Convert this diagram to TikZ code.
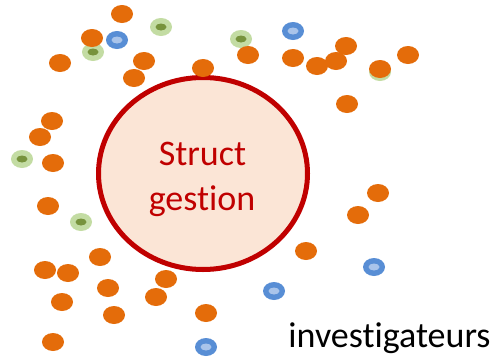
\documentclass[tikz,border=0pt]{standalone}
\usepackage{fontspec}
\setmainfont{Carlito}[RawFeature=-liga]
\usetikzlibrary{shapes.geometric}
\definecolor{dotorange}{HTML}{E46C0A}
\definecolor{ringgreen}{HTML}{C3DCA3}
\definecolor{coregreen}{HTML}{77933C}
\definecolor{ringblue}{HTML}{588ED5}
\definecolor{coreblue}{HTML}{A9C4EA}
\definecolor{circfill}{HTML}{FBE5D6}
\definecolor{circline}{HTML}{C00000}
\tikzset{
  odot/.style={ellipse, fill=dotorange, minimum width=22pt, minimum height=18pt, inner sep=0pt},
  gring/.style={ellipse, fill=ringgreen, minimum width=22pt, minimum height=18pt, inner sep=0pt},
  gcore/.style={ellipse, fill=coregreen, minimum width=11pt, minimum height=7pt, inner sep=0pt},
  bring/.style={ellipse, fill=ringblue, minimum width=22pt, minimum height=18pt, inner sep=0pt},
  bcore/.style={ellipse, fill=coreblue, minimum width=11pt, minimum height=7pt, inner sep=0pt},
  bigtext/.style={font=\fontsize{36}{44}\selectfont, anchor=base, inner sep=0pt},
}
\begin{document}
\begin{tikzpicture}[x=1pt,y=-1pt]
\useasboundingbox (0,0) rectangle (497,359);
% central structure
\node[ellipse, draw=circline, line width=5pt, fill=circfill, minimum width=209pt, minimum height=192pt, inner sep=0pt] (core) at (203,173.5) {};
\node[bigtext, text=circline] (lbl1) at (202.5,165) {Struct};
\node[bigtext, text=circline] (lbl2) at (202,210) {gestion};
% green dots
\foreach \x/\y [count=\i] in {161/27, 93/52, 241/39, 22/159, 81/222, 380/72} {
  \node[gring] (g\i) at (\x,\y) {};
  \node[gcore] (gc\i) at (g\i.center) {};
}
% blue dots
\foreach \x/\y [count=\i] in {117/40, 293/31, 374/267, 274/291, 206/347} {
  \node[bring] (b\i) at (\x,\y) {};
  \node[bcore] (bc\i) at (b\i.center) {};
}
% orange dots
\foreach \x/\y [count=\i] in {122/14, 92/38, 60/63, 144/61, 134/78, 203/68, 248/55, 52/121, 40/137, 53/163,
  293/58, 317/66, 336/61, 346/46, 380/69, 408/55, 347/104,
  48/206, 100/257, 45/270, 68/273, 108/288, 166/279, 156/297, 62/302, 114/315, 206/313, 53/342,
  378/193, 358/215, 306/251} {
  \node[odot] (o\i) at (\x,\y) {};
}
\node[bigtext] (inv) at (389.5,347) {investigateurs};
\end{tikzpicture}
\end{document}
